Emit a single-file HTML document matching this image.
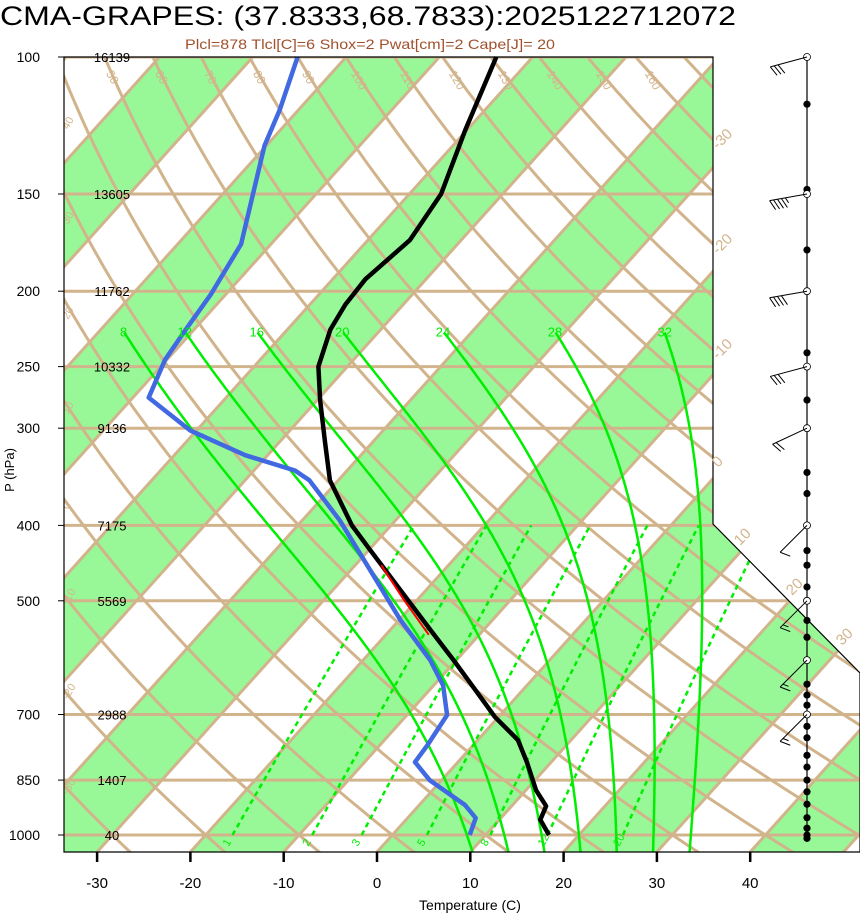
<!DOCTYPE html>
<html><head><meta charset="utf-8"><style>
html,body{margin:0;padding:0;background:#fff;}
svg{display:block;font-family:"Liberation Sans",Arial,sans-serif;}
</style></head><body>
<svg id="chart" width="860" height="914" viewBox="0 0 860 914">
<defs><clipPath id="plotclip"><path d="M64,57 L713,57 L713,524 L860,673 L860,852 L64,852 Z"/></clipPath></defs>
<text x="0" y="25" font-size="27" textLength="736" lengthAdjust="spacingAndGlyphs">CMA-GRAPES: (37.8333,68.7833):2025122712072</text>
<text x="185" y="49" font-size="14" fill="#a0522d" textLength="370" lengthAdjust="spacingAndGlyphs">Plcl=878 Tlcl[C]=6 Shox=2 Pwat[cm]=2 Cape[J]= 20</text>
<g id="bg" clip-path="url(#plotclip)"></g>
<g id="prof"></g>
<path d="M64,57 L713,57 L713,524 L860,673 L860,852 L64,852 Z" fill="none" stroke="#000" stroke-width="1.2"/>
<g id="axes"></g>
<g id="wind"></g>
<text x="470" y="910" font-size="14" text-anchor="middle">Temperature (C)</text>
<text x="0" y="0" font-size="13" text-anchor="middle" transform="translate(14,470) rotate(-90)">P (hPa)</text>
</svg>
<script>
const pLevels=[100,150,200,250,300,400,500,700,850,1000];
const heights=[16139,13605,11762,10332,9136,7175,5569,2988,1407,40];
const tempTicks=[-30,-20,-10,0,10,20,30,40];
const tempP=[1000,956,918,876,806,755,705,671,599,545,484,430,400,350,311,276,250,224,208,193,172,150,124,100];
const tempT=[16.8,14.4,13.7,11.1,7.4,4.3,-0.4,-3.3,-10.0,-15.7,-22.8,-29.9,-34.2,-40.9,-45.3,-49.7,-53.1,-55.4,-56.2,-56.5,-55.5,-56.6,-60.2,-63.9];
const dewP=[1000,951,915,850,806,766,701,642,596,529,456,394,350,340,325,302,274,245,224,202,174,130,117,100];
const dewT=[8.3,7.3,4.9,-1.3,-4.6,-4.9,-5.7,-9.0,-12.8,-19.9,-28.0,-36.0,-43.1,-45.6,-52.4,-60.7,-68.3,-70.2,-70.9,-71.6,-73.2,-80.2,-82.0,-85.2];
const parcelP=[450,499,553];
const parcelT=[-27.2,-21.4,-15.4];
const moistThetaW=[8,12,16,20,24,28,32];
const mixRatios=[1,2,3,5,8,12,20];
const dryThetas=[-40,-30,-20,-10,0,10,20,30,40,50,60,70,80,90,100,110,120,130,140,150,160,170,180,190,200];
const windP=[100,150,200,250,300,400,500,596,700];
const windDir=[255,260,260,255,245,225,225,225,225];
const windSpd=[30,45,40,30,20,10,15,15,15];
const dotP=[115,148,177,200,240,276,300,342,364,400,431,450,480,500,530,557,596,640,661,681,700,725,750,790,818,850,880,913,950,980,1000,1010];

const NS='http://www.w3.org/2000/svg';
const yP=p=>57+778*Math.log10(p/100);
const xT=(T,p)=>377+9.33*T+0.9*(852-yP(p));
function mk(parent,tag,attrs){const e=document.createElementNS(NS,tag);for(const k in attrs)e.setAttribute(k,attrs[k]);parent.appendChild(e);return e;}
const bg=document.getElementById('bg'),prof=document.getElementById('prof'),axes=document.getElementById('axes'),wind=document.getElementById('wind');
const TAN='#d2b48c',LG='#98f898',GR='#00ee00';

for(let T=-160;T<=60;T+=20){
  const d=`M${xT(T,1300)},${yP(1300)} L${xT(T,60)},${yP(60)} L${xT(T+10,60)},${yP(60)} L${xT(T+10,1300)},${yP(1300)} Z`;
  const e=mk(bg,'path',{d:d,fill:LG});
  
  
}
pLevels.forEach(p=>{
  const e=mk(bg,'line',{x1:64,x2:860,y1:yP(p),y2:yP(p),stroke:TAN,'stroke-width':3});
  
  
});
for(let T=-160;T<=60;T+=10){
  const e=mk(bg,'line',{x1:xT(T,1300),y1:yP(1300),x2:xT(T,60),y2:yP(60),stroke:TAN,'stroke-width':3});
  
  
}
dryThetas.forEach(th=>{
  let pts=[];
  for(let p=1300;p>=60;p*=0.97){const T=(th+273.15)*Math.pow(p/1000,0.286)-273.15;pts.push(xT(T,p).toFixed(1)+','+yP(p).toFixed(1));}
  const e=mk(bg,'polyline',{points:pts.join(' '),fill:'none',stroke:TAN,'stroke-width':3});
  
  
});
function es(T){return 6.112*Math.exp(17.67*T/(T+243.5));}
function gamma(T,p){const Tk=T+273.15,e=es(T),rs=0.622*e/(p-e),Lv=2.5e6,Rd=287,cp=1005;
  return (Rd*Tk+Lv*rs)/(cp+Lv*Lv*rs*0.622/(Rd*Tk*Tk))/p;}
moistThetaW.forEach(tw=>{
  let pts=[];let T=tw,p=1000;
  let T2=tw;for(let q=1000;q<1060;q+=2){T2+=gamma(T2,q)*2;} pts.push(xT(T2,1060).toFixed(1)+','+yP(1060).toFixed(1));
  while(p>=226){pts.push(xT(T,p).toFixed(1)+','+yP(p).toFixed(1));T-=gamma(T,p)*2;p-=2;}
  const e=mk(bg,'polyline',{points:pts.join(' '),fill:'none',stroke:GR,'stroke-width':2.5});
  
  
  const lx=xT(T,226),ly=yP(226);
  const t=mk(axes,'text',{x:lx+4,y:ly+4,'font-size':13,fill:GR,'text-anchor':'middle'});t.textContent=tw;
  
  
});
mixRatios.forEach(w=>{
  let pts=[];
  for(let p=1000;p>=400;p-=10){const e=w*p/(622+w),l=Math.log(e/6.112),T=243.5*l/(17.67-l);pts.push(xT(T,p).toFixed(1)+','+yP(p).toFixed(1));}
  const e=mk(bg,'polyline',{points:pts.join(' '),fill:'none',stroke:GR,'stroke-width':2.5,'stroke-dasharray':'5,4'});
  
  
  const ee=w*1000/(622+w),l=Math.log(ee/6.112),T=243.5*l/(17.67-l);
  const t=mk(bg,'text',{x:0,y:0,'font-size':11,fill:GR,transform:`translate(${xT(T,1000)-4},${yP(1000)+12}) rotate(-60)`});t.textContent=w;
  
  
});
[40,30,20,10,0,-10,-20,-30].forEach((T,i)=>{
  const t=mk(bg,'text',{x:0,y:0,'font-size':11,fill:TAN,transform:`translate(68,${130+i*95}) rotate(-60)`});t.textContent=T;
  
  
});
[[-30,718,150],[-20,718,255],[-10,718,360],[0,718,468],[10,740,546],[20,792,596],[30,842,646]].forEach(a=>{
  const t=mk(axes,'text',{x:0,y:0,'font-size':15,fill:TAN,transform:`translate(${a[1]},${a[2]}) rotate(-45)`});t.textContent=a[0];
  
  
});
[50,60,70,80,90,100,110,120,130,140,150,160].forEach(th=>{
  const T=(th+273.15)*Math.pow(0.105,0.286)-273.15;
  const t=mk(bg,'text',{x:0,y:0,'font-size':12,fill:TAN,transform:`translate(${xT(T,105)-6},${yP(105)}) rotate(60)`});t.textContent=th;
  
  
});
function line(P,T,color,w,name){
  const pts=P.map((p,i)=>xT(T[i],p).toFixed(1)+','+yP(p).toFixed(1)).join(' ');
  const e=mk(prof,'polyline',{points:pts,fill:'none',stroke:color,'stroke-width':w,'stroke-linejoin':'round'});
  
  
}
line(dewP,dewT,'#4169e1',4.5,'dewpoint-line');
line(tempP,tempT,'#000',4.5,'temperature-line');
line(parcelP,parcelT,'#ff0000',2,'parcel-segment');
pLevels.forEach((p,i)=>{
  const y=yP(p);
  const t=mk(axes,'text',{x:40,y:y+5,'font-size':14,'text-anchor':'end'});t.textContent=p;
  
  
  const h=mk(axes,'text',{x:112,y:y+5,'font-size':13,'text-anchor':'middle'});h.textContent=heights[i];
  
  
  const k=mk(axes,'line',{x1:58,x2:64,y1:y,y2:y,stroke:'#000','stroke-width':1});
  
  
});
tempTicks.forEach(T=>{
  const x=377+9.33*T;
  const k=mk(axes,'line',{x1:x,x2:x,y1:852,y2:862,stroke:'#000','stroke-width':2.5});
  
  
  const t=mk(axes,'text',{x:x,y:888,'font-size':15,'text-anchor':'middle'});t.textContent=T;
  
  
});
const WX=807;
const wl=mk(wind,'line',{x1:WX,x2:WX,y1:57,y2:840,stroke:'#000','stroke-width':1.2});


dotP.forEach(p=>{
  const c=mk(wind,'circle',{cx:WX,cy:yP(p),r:3.6,fill:'#000'});
  
  
});
windP.forEach((p,i)=>{
  const y=yP(p),a=windDir[i]*Math.PI/180;
  const dx=Math.sin(a),dy=-Math.cos(a);
  const L=38,ex=WX+dx*L,ey=y+dy*L;
  const c=mk(wind,'circle',{cx:WX,cy:y,r:3.5,fill:'#fff',stroke:'#000','stroke-width':0.8});
  
  
  let d=`M${WX},${y} L${ex},${ey}`;
  let n=Math.round(windSpd[i]/5),k=0;
  const px=-dy,py=dx;
  while(n>0){const bx=ex-dx*k*4,by=ey-dy*k*4;const len=n>=2?11:6;d+=` M${bx},${by} L${bx+(px*0.9+dx*0.4)*len*-1},${by+(py*0.9+dy*0.4)*len*-1}`;n-=2;k++;}
  const b=mk(wind,'path',{d:d,fill:'none',stroke:'#000','stroke-width':1});
  
  
});
</script>
</body></html>
